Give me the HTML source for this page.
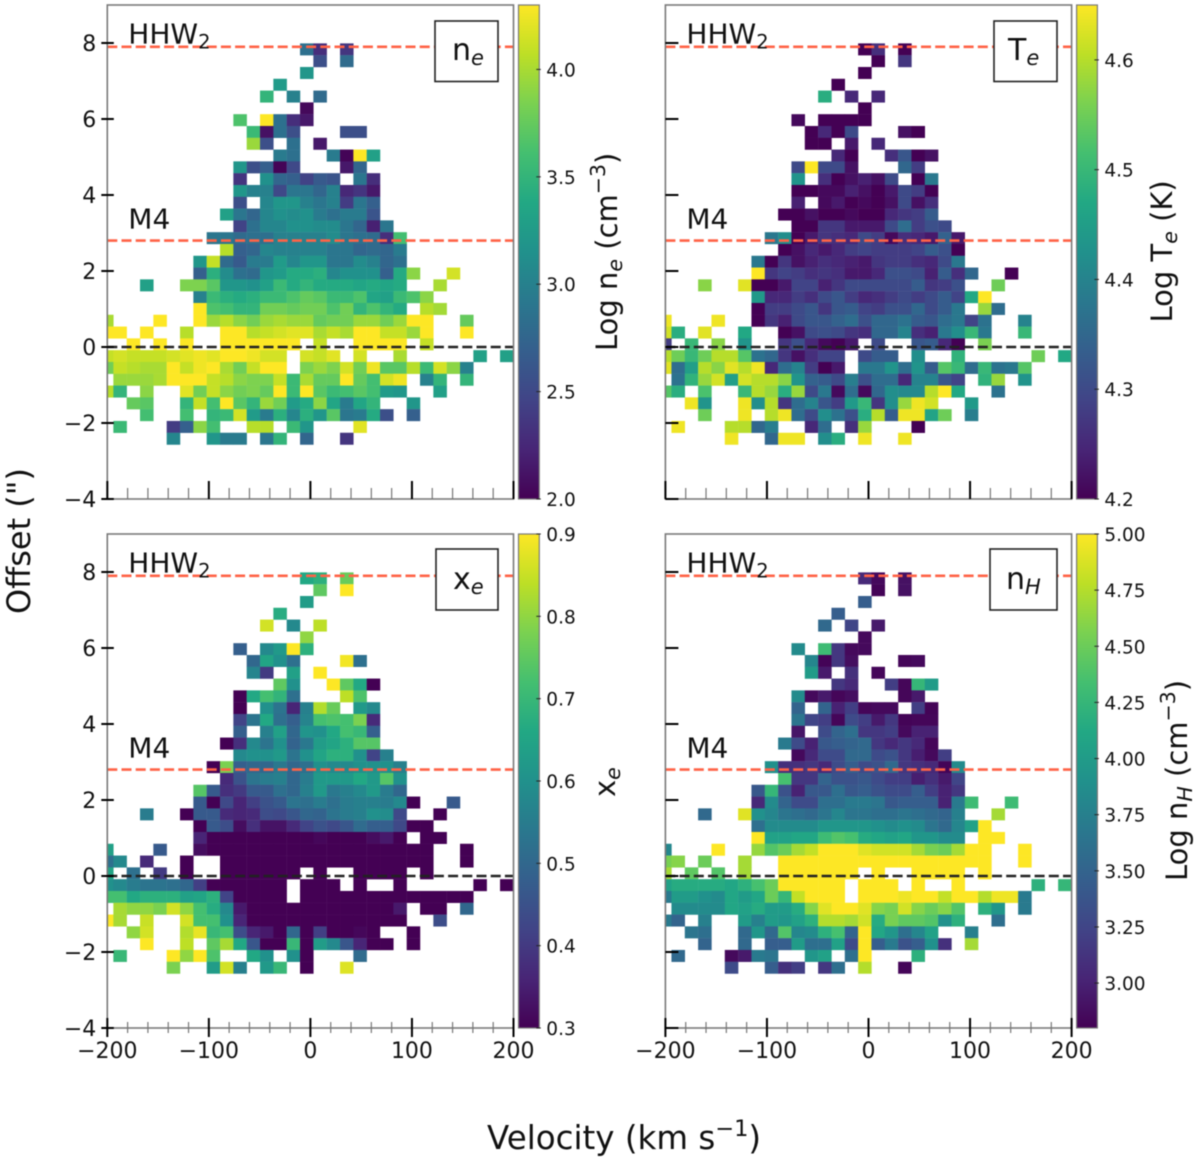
<!DOCTYPE html>
<html lang="en">
<head>
<meta charset="utf-8">
<title>Electron density, temperature, ionisation and hydrogen density maps</title>
<style>
html,body{margin:0;padding:0;background:#fff;}
svg{display:block;font-family:"DejaVu Sans","Liberation Sans",sans-serif;filter:blur(0.4px);}
text{fill:#111;}
</style>
</head>
<body>
<svg id="figure" xmlns="http://www.w3.org/2000/svg" width="1200" height="1161" viewBox="0 0 1200 1161">
  <rect x="0" y="0" width="1200" height="1161" fill="#fff"/>
  <g id="plots"></g>
  <g id="annotations">
    <g>
      <rect x="435" y="21" width="63" height="60.5" fill="#fff" stroke="#222" stroke-width="1.6"/>
      <text x="452" y="60" font-size="30">n<tspan font-size="21" font-style="italic" dy="5">e</tspan></text>
    </g>
    <g>
      <rect x="994" y="21" width="63" height="60.5" fill="#fff" stroke="#222" stroke-width="1.6"/>
      <text x="1008" y="60" font-size="30">T<tspan font-size="21" font-style="italic" dy="5">e</tspan></text>
    </g>
    <g>
      <rect x="436" y="549" width="62" height="61" fill="#fff" stroke="#222" stroke-width="1.6"/>
      <text x="453" y="589" font-size="30">x<tspan font-size="21" font-style="italic" dy="5">e</tspan></text>
    </g>
    <g>
      <rect x="990" y="549" width="67" height="61" fill="#fff" stroke="#222" stroke-width="1.6"/>
      <text x="1006" y="589" font-size="30">n<tspan font-size="21" font-style="italic" dy="5">H</tspan></text>
    </g>

    <text transform="translate(617,351) rotate(-90)" font-size="29">Log n<tspan font-size="20.5" font-style="italic" dy="5">e</tspan><tspan dy="-5"> (cm</tspan><tspan font-size="20.5" dy="-12">−3</tspan><tspan dy="12">)</tspan></text>
    <text transform="translate(1172,322.5) rotate(-90)" font-size="29">Log T<tspan font-size="20.5" font-style="italic" dy="5">e</tspan><tspan dy="-5"> (K)</tspan></text>
    <text transform="translate(615,797) rotate(-90)" font-size="29">x<tspan font-size="20.5" font-style="italic" dy="5">e</tspan></text>
    <text transform="translate(1187,881) rotate(-90)" font-size="29">Log n<tspan font-size="20.5" font-style="italic" dy="5">H</tspan><tspan dy="-5"> (cm</tspan><tspan font-size="20.5" dy="-12">−3</tspan><tspan dy="12">)</tspan></text>

    <text transform="translate(30,614) rotate(-90)" font-size="32">Offset (")</text>
    <text x="487" y="1149" font-size="32.5">Velocity (km s<tspan font-size="22.5" dy="-13">−1</tspan><tspan dy="13">)</tspan></text>
  </g>
</svg>
<script>
const _ = null;

// Each row: [first velocity-bin index, value, value, ...]; one row per offset bin, top to bottom.
const neValues = [
[15,2.85,2.3,_,2.35],
[16,2.55,_,2.8],
[15,3.2],
[13,3.25],
[12,3.5,_,3.0,_,2.8],
[15,2.05],
[10,3.65,_,4.3,2.85,2.3,2.15],
[11,3.55,2.1,2.85,2.55,_,_,_,2.55,2.55],
[11,3.95,2.55,_,2.85,_,2.15],
[13,2.95,2.85,_,_,2.95,2.02,4.3,3.3],
[10,3.2,2.55,2.7,2.02,2.5,_,_,_,2.15,2.75],
[10,2.35,_,3.15,2.75,2.7,2.45,2.65,2.6,_,2.9,2.3],
[10,3.2,3.0,3.0,2.5,2.9,2.9,2.75,3.0,2.25,2.35,2.15],
[10,2.55,_,3.05,3.2,3.2,3.0,2.9,3.0,2.4,2.9,2.7],
[9,3.3,2.9,2.75,3.05,3.15,3.1,3.15,2.95,2.85,2.95,2.95,2.6],
[10,2.45,2.85,3.05,3.05,3.15,3.15,3.1,3.1,2.9,2.75,2.2,2.9],
[8,2.9,2.9,2.8,2.85,2.85,3.0,3.0,3.0,3.0,3.1,2.9,2.85,2.8,2.3,3.6],
[9,4.05,2.7,2.75,3.05,3,3,3,3,2.9,2.9,2.75,2.8,2.75,2.95],
[7,3.2,4.1,2.8,2.65,2.95,2.95,3.25,3.05,3.2,3.2,2.9,2.9,3.1,3.0,2.75,2.85],
[7,2.7,3.45,3.1,2.85,2.8,3.2,3.25,3.4,3.4,3.45,3.05,3.15,3.15,3.15,2.7,3.4,3.9,_,_,4.15],
[3,3.3,_,_,3.85,3.85,3.7,3.2,3.2,3.15,3.3,3.55,3.4,3.5,3.4,3.4,3.4,3.35,3.4,3.35,3.4,_,_,4.0],
[7,3.0,3.55,3.45,3.4,3.45,3.55,3.55,3.65,3.75,3.7,3.55,3.55,3.65,3.35,3.3,3.55,3.65,3.9],
[7,4.3,3.65,3.6,3.5,3.5,3.8,3.8,3.75,3.8,3.8,3.65,3.8,3.5,3.65,3.5,3.4,_,4.05,3.98],
[0,4.0,_,_,_,4.3,_,_,4.3,3.95,4.05,3.9,3.8,3.95,4.0,3.95,3.95,3.75,3.8,3.8,3.95,3.95,3.8,3.95,4.3,4.3,_,_,3.75],
[0,4.3,4.3,_,4.3,_,_,4.05,_,_,4.3,4.3,4.05,4.1,4.15,4.2,4.2,4.0,4.1,4.0,4.3,4.3,4.1,4.1,3.95,4.3,_,_,4.3],
[2,4.3,_,4.3,_,4.3,_,_,4.3,4.3,4.3,4.3,4.3,4.3,_,4.1,_,_,4.3,4.3,4.3,4.3,_,4.1],
[0,4.1,4.15,4.1,4.1,4.1,4.15,4.2,4.25,4.2,4.3,4.3,4.25,4.15,4.15,_,4.15,4.1,4.2,_,4.15,_,_,4.0,_,_,_,_,_,3.3,_,3.3],
[0,3.8,4.1,4.05,4.0,4.0,4.3,4.1,4.25,4.3,4.0,3.8,4.1,4.3,4.3,_,3.85,3.95,3.85,4.15,3.8,4.25,3.7,3.7,4.05,3.55,4.15,3.9,3.0],
[1,3.95,3.95,3.95,4.0,4.3,4.3,4.3,4.1,4.05,3.9,3.85,3.85,4.1,3.55,4.0,3.75,3.75,4.3,3.75,3.6,4.15,4.25,_,3.0,3.5,_,3.5],
[0,4.05,3.5,_,3.9,_,_,4.2,3.8,4.1,3.9,3.8,3.85,3.75,4.3,3.55,4.3,3.7,3.55,3.6,3.7,3.6,3.25,3.2,_,_,3.3],
[2,3.75,3.7,_,_,3.5,4.1,3.6,4.3,3.7,3.5,3.95,3.8,3.25,3.4,3.9,3.35,2.95,3.35,3.5,_,_,3.2],
[3,3.6,_,_,3.6,_,3.5,3.55,4.15,3.25,2.95,3.45,3.05,3.45,3.2,3.7,2.9,2.95,3.4,2.55,_,2.7],
[1,3.55,_,_,_,2.4,2.7,3.9,3.6,_,_,4.05,4.05,_,3.55,3.2,_,_,_,4.2],
[5,3.05,_,_,3.2,2.95,2.95,_,2.9,3.5,_,2.75,_,_,2.35]
];

const teValues = [
[15,4.2,4.26,_,4.2],
[16,4.2,_,4.27],
[15,4.2],
[13,4.2],
[12,4.48,_,4.25,_,4.25],
[15,4.2],
[10,4.21,_,4.2,4.2,4.2,4.2],
[11,4.2,4.25,4.2,4.3,_,_,_,4.22,4.2],
[11,4.2,4.2,_,4.23,_,4.25],
[13,4.25,4.2,_,_,4.26,4.32,4.2,4.22],
[10,4.3,4.65,4.3,4.3,4.22,_,_,_,4.35,4.28],
[10,4.43,_,4.26,4.2,4.22,4.24,4.22,4.3,_,4.2,4.38],
[10,4.2,4.2,4.21,4.21,4.24,4.22,4.2,4.23,4.3,4.28,4.2],
[10,4.24,_,4.21,4.23,4.2,4.21,4.2,4.22,4.3,4.22,4.26],
[9,4.2,4.2,4.22,4.2,4.2,4.21,4.2,4.2,4.25,4.27,4.28,4.33],
[10,4.2,4.2,4.27,4.27,4.23,4.23,4.23,4.3,4.36,4.28,4.31,4.3],
[8,4.38,4.42,4.2,4.23,4.27,4.26,4.25,4.3,4.28,4.21,4.26,4.25,4.23,4.34,4.23],
[9,4.2,4.22,4.25,4.23,4.25,4.28,4.29,4.28,4.28,4.28,4.29,4.33,4.31,4.2],
[7,4.38,4.2,4.27,4.22,4.24,4.26,4.25,4.24,4.23,4.27,4.28,4.28,4.26,4.25,4.3,4.38],
[7,4.65,4.27,4.29,4.28,4.26,4.27,4.26,4.23,4.23,4.25,4.31,4.31,4.3,4.24,4.33,4.26,4.35,_,_,4.2],
[3,4.57,_,_,4.63,4.2,4.2,4.23,4.29,4.29,4.24,4.27,4.3,4.3,4.3,4.3,4.3,4.33,4.27,4.28,4.31,_,_,4.55],
[7,4.44,4.25,4.25,4.28,4.26,4.3,4.32,4.28,4.25,4.26,4.28,4.3,4.28,4.3,4.33,4.29,4.47,4.65],
[7,4.2,4.28,4.28,4.3,4.32,4.27,4.32,4.33,4.29,4.28,4.31,4.31,4.35,4.3,4.33,4.38,_,4.58,4.36],
[0,4.64,_,_,_,4.64,_,_,4.2,4.27,4.24,4.3,4.32,4.32,4.34,4.36,4.31,4.35,4.35,4.37,4.33,4.32,4.36,4.38,4.29,4.37,_,_,4.4],
[0,4.62,4.48,_,4.63,_,_,4.47,_,_,4.2,4.22,4.3,4.31,4.3,4.27,4.26,4.35,4.35,4.4,4.26,4.24,4.38,4.42,4.5,4.38,_,_,4.5],
[0,4.28,_,4.5,_,4.57,_,4.43,_,_,4.27,4.31,4.25,4.21,4.2,4.23,_,4.3,_,_,4.32,4.33,4.25,4.2,_,4.56],
[0,4.6,4.55,4.5,4.55,4.6,4.6,4.53,4.37,4.35,4.27,4.22,4.26,4.29,4.29,_,4.3,4.33,4.33,_,4.42,_,_,4.49,_,_,_,_,_,4.55,_,4.47],
[0,4.63,4.36,4.45,4.6,4.57,4.63,4.6,4.64,4.25,4.36,4.4,4.28,4.2,4.23,_,4.38,4.38,4.43,4.36,4.43,4.33,4.53,4.5,4.36,4.5,4.37,4.38,4.53],
[1,4.37,4.49,4.58,4.62,4.45,4.62,4.6,4.6,4.57,4.43,4.34,4.33,4.3,4.39,4.31,4.36,4.36,4.25,4.4,4.4,4.32,4.29,_,4.49,4.58,_,4.43],
[0,4.53,4.48,_,4.52,_,_,4.5,4.6,4.58,4.48,4.58,4.3,4.38,4.21,4.36,4.21,4.35,4.42,4.41,4.41,4.6,4.65,4.47,_,_,4.37],
[2,4.64,4.43,_,_,4.64,4.42,4.6,4.27,4.36,4.4,4.32,4.28,4.44,4.5,4.27,4.42,4.58,4.64,4.62,_,_,4.44],
[3,4.55,_,_,4.64,_,4.6,4.64,4.36,4.3,4.42,4.37,4.31,4.48,4.6,4.33,4.64,4.64,4.46,4.55,_,4.39],
[1,4.64,_,_,_,4.6,4.6,4.35,4.39,_,_,4.25,4.36,_,4.26,4.58,_,_,_,4.2],
[5,4.64,_,_,4.35,4.64,4.64,_,4.42,4.48,_,4.64,_,_,4.64]
];

const xeValues = [
[15,0.66,0.68,_,0.76],
[16,0.75,_,0.9],
[15,0.63],
[13,0.67],
[12,0.86,_,0.58,_,0.84],
[15,0.8],
[10,0.48,_,0.58,0.62,0.9,0.68],
[11,0.5,0.65,0.6,0.52,_,_,_,0.89,0.52],
[11,0.57,0.4,_,0.64,_,0.9],
[13,0.75,0.6,_,_,0.9,0.75,0.66,0.3],
[10,0.3,0.66,0.72,0.69,0.52,_,_,_,0.84,0.73],
[10,0.3,_,0.6,0.53,0.36,0.56,0.83,0.76,_,0.62,0.58],
[10,0.42,0.53,0.66,0.52,0.48,0.57,0.72,0.73,0.72,0.78,0.37],
[10,0.48,_,0.56,0.64,0.5,0.61,0.6,0.66,0.72,0.7,0.48],
[9,0.3,0.38,0.58,0.53,0.6,0.49,0.54,0.63,0.65,0.68,0.74,0.74],
[10,0.58,0.6,0.6,0.62,0.53,0.6,0.65,0.68,0.68,0.6,0.42,0.56],
[8,0.3,0.78,0.48,0.5,0.5,0.54,0.5,0.52,0.6,0.58,0.58,0.6,0.6,0.6,0.56],
[9,0.37,0.45,0.53,0.55,0.56,0.5,0.55,0.62,0.62,0.62,0.66,0.62,0.74,0.6],
[7,0.74,0.47,0.38,0.4,0.47,0.47,0.52,0.5,0.56,0.62,0.54,0.56,0.58,0.62,0.55,0.5],
[7,0.47,0.3,0.43,0.36,0.41,0.45,0.47,0.53,0.52,0.55,0.52,0.55,0.56,0.56,0.55,0.58,0.3,_,_,0.47],
[3,0.55,_,_,0.3,0.47,0.47,0.37,0.36,0.37,0.44,0.43,0.46,0.5,0.49,0.53,0.55,0.56,0.6,0.59,0.43,_,_,0.3],
[7,0.3,0.47,0.44,0.32,0.38,0.33,0.33,0.37,0.42,0.45,0.43,0.46,0.51,0.48,0.48,0.43,0.3,0.3],
[7,0.36,0.3,0.3,0.3,0.3,0.3,0.3,0.3,0.3,0.31,0.3,0.3,0.3,0.32,0.34,0.3,_,0.3,0.3],
[0,0.64,_,_,_,0.47,_,_,0.32,0.3,0.3,0.3,0.3,0.3,0.3,0.3,0.3,0.3,0.3,0.3,0.3,0.3,0.3,0.3,0.3,0.3,_,_,0.3],
[0,0.52,0.58,_,0.37,_,_,0.3,_,_,0.3,0.3,0.3,0.3,0.3,0.3,0.3,0.3,0.3,0.3,0.3,0.3,0.3,0.3,0.3,0.3,_,_,0.3],
[0,0.65,_,0.52,_,0.4,_,0.3,_,_,0.3,0.3,0.3,0.3,0.3,0.3,_,0.3,_,_,0.3,0.3,0.3,0.3,_,0.3],
[0,0.6,0.58,0.55,0.53,0.53,0.52,0.5,0.41,0.3,0.3,0.3,0.3,0.3,0.3,_,0.3,0.3,0.3,_,0.3,_,_,0.3,_,_,_,_,_,0.3,_,0.3],
[0,0.72,0.72,0.66,0.68,0.68,0.68,0.64,0.65,0.68,0.42,0.3,0.3,0.3,0.3,_,0.3,0.3,0.3,0.3,0.3,0.3,0.3,0.3,0.3,0.3,0.3,0.3,0.3],
[1,0.82,0.8,0.8,0.78,0.86,0.8,0.72,0.67,0.58,0.34,0.3,0.3,0.3,0.3,0.3,0.3,0.3,0.3,0.3,0.3,0.3,0.34,_,0.3,0.3,_,0.5],
[0,0.9,0.82,_,0.85,_,_,0.86,0.72,0.72,0.6,0.36,0.3,0.3,0.3,0.3,0.3,0.3,0.3,0.3,0.3,0.3,0.3,0.3,_,_,0.44],
[2,0.8,0.86,_,_,0.83,0.88,0.7,0.72,0.44,0.36,0.34,0.3,0.5,0.3,0.41,0.3,0.3,0.31,0.3,_,_,0.3],
[3,0.9,_,_,0.84,_,0.75,0.82,0.66,0.46,0.3,0.3,0.7,0.3,0.63,0.58,0.46,0.36,0.3,0.3,_,0.3],
[1,0.7,_,_,_,0.9,0.8,0.9,0.73,_,_,0.66,0.6,_,0.6,0.3,_,_,_,0.51],
[5,0.78,_,_,0.63,0.86,0.56,_,0.62,0.7,_,0.3,_,_,0.87]
];

const nhValues = [
[15,3.05,2.85,_,2.9],
[16,2.82,_,2.9],
[15,3.45],
[13,3.45],
[12,3.55,_,3.25,_,2.95],
[15,2.85],
[10,3.85,_,4.3,3.15,2.85,2.85],
[11,3.8,2.82,3.15,2.88,_,_,_,2.83,2.85],
[11,4.0,2.95,_,3.1,_,2.83],
[13,3.15,3.05,_,_,3.2,2.83,4.25,4.0],
[10,3.85,2.85,2.95,2.83,2.88,_,_,_,2.83,2.95],
[10,3.5,_,3.5,3.0,3.2,2.83,2.85,2.85,_,3.2,2.82],
[10,3.65,3.25,3.2,2.83,3.3,3.2,2.95,3.15,2.82,2.83,2.83],
[10,2.92,_,3.3,3.5,3.6,3.15,3.15,3.2,2.85,3.0,3.0],
[9,3.7,3.3,3.0,3.4,3.45,3.5,3.55,3.15,3.05,3.15,3.05,2.83],
[10,2.85,3.05,3.3,3.3,3.55,3.55,3.3,3.35,3.15,2.98,2.85,3.2],
[8,3.9,3.1,3.1,3.15,3.05,3.3,3.45,3.3,3.35,3.55,3.15,3.1,3.05,2.82,3.85],
[9,4.35,3.15,3.15,3.5,3.35,3.35,3.4,3.3,3.2,3.2,2.98,3.1,2.95,3.25],
[7,3.4,4.25,3.35,3.0,3.4,3.4,3.6,3.4,3.45,3.35,3.3,3.3,3.45,3.2,3.0,3.15],
[7,3.05,3.85,3.5,3.3,3.3,3.6,3.6,3.7,3.7,3.65,3.4,3.45,3.45,3.45,3.0,3.7,4.3,_,_,4.3],
[3,3.55,_,_,4.9,3.9,3.8,3.65,3.6,3.55,3.65,3.8,3.65,3.65,3.6,3.6,3.65,3.6,3.55,3.5,3.75,_,_,4.7],
[7,3.6,3.85,3.85,3.85,3.85,3.95,3.95,3.95,3.95,3.9,3.85,3.9,3.85,3.65,3.55,3.8,4.05,5],
[7,5,4.05,4.05,4.1,4.1,4.3,4.4,4.35,4.15,4.1,4.05,4.1,3.95,3.95,3.85,3.85,_,5,5],
[0,3.8,_,_,_,5,_,_,4.65,4.4,4.5,4.7,4.8,5,5,5,4.9,4.85,4.85,4.85,4.7,4.55,4.5,4.7,5,5,_,_,5],
[0,4.55,4.6,_,4.5,_,_,4.7,_,_,5,5,5,5,5,5,5,5,5,5,5,5,5,5,5,5,_,_,5],
[0,4.7,_,4.45,_,4.4,_,4.7,_,_,5,5,5,5,5,5,_,5,_,_,5,5,5,5,_,5],
[0,4.05,4.15,4.15,4.15,4.15,4.1,4.2,4.35,4.5,5,5,5,5,5,_,5,5,5,_,5,_,_,5,_,_,_,_,_,4.2,_,4.25],
[0,3.7,4.0,4.0,3.9,3.85,4.1,4.0,4.1,4.5,4.25,4.8,5,5,5,_,5,5,5,4.95,5,5,4.8,5,5,4.75,4.95,4.95,3.7],
[1,3.85,3.85,3.85,3.85,4.1,4.05,4.15,4.0,4.0,4.15,4.6,4.9,5,5,4.9,4.6,4.55,4.85,4.6,4.5,4.6,4.4,_,4.2,3.95,_,3.7],
[0,3.7,3.5,_,3.75,_,_,4.0,3.75,4.0,3.95,4.05,4.2,4.75,4.75,4.7,4.85,4.15,4.55,4.45,4.45,4.4,3.9,4.2,_,_,3.6],
[2,3.65,3.6,_,_,3.55,3.95,3.55,4.4,3.8,3.85,4.2,4.35,3.5,5,4.1,3.95,3.6,3.8,4.05,_,_,3.75],
[3,3.5,_,_,3.55,_,3.45,3.45,4.0,3.6,3.6,4.05,3.3,5,3.45,3.7,3.35,3.45,3.9,3.1,_,4.7],
[1,3.55,_,_,_,2.85,2.95,3.7,3.65,_,_,3.95,4.05,_,3.6,5,_,_,_,4.2],
[5,3.3,_,_,3.45,3.1,3.2,_,3.15,3.6,_,4.75,_,_,2.83]
];

const velocityTicks = [-200,-100,0,100,200];
const velocityMinorTicks = [-180,-160,-140,-120,-80,-60,-40,-20,20,40,60,80,120,140,160,180];
const offsetTicks = [8,6,4,2,0,-2,-4];
const referenceOffsets = [7.9,2.8];
const referenceLabels = ['HHW','M4'];
const neColorbarTicks = [2.0,2.5,3.0,3.5,4.0];
const teColorbarTicks = [4.2,4.3,4.4,4.5,4.6];
const xeColorbarTicks = [0.3,0.4,0.5,0.6,0.7,0.8,0.9];
const nhColorbarTicks = [3.0,3.25,3.5,3.75,4.0,4.25,4.5,4.75,5.0];

const viridis = ['#440154','#482576','#414487','#355f8d','#2a788e','#21918c','#22a884','#44bf70','#7ad151','#bddf26','#fde725'];

const velocityMin = -200, velocityMax = 200, offsetMin = -4, offsetMax = 9;
const binFirstVelocity = -200.6, binVelocityStep = 13.13;
const binFirstOffset = 7.99, binOffsetStep = 0.3105;
const panelWidth = 406.2, panelHeight = 494;

const panels = [
 {id:'ne', rows:neValues, vmin:2.0, vmax:4.3, left:107.3, top:5, cb:neColorbarTicks, digits:1, showY:true, showX:false},
 {id:'te', rows:teValues, vmin:4.2, vmax:4.65, left:665.4, top:5, cb:teColorbarTicks, digits:1, showY:false, showX:false},
 {id:'xe', rows:xeValues, vmin:0.3, vmax:0.9, left:107.3, top:534, cb:xeColorbarTicks, digits:1, showY:true, showX:true},
 {id:'nh', rows:nhValues, vmin:2.8, vmax:5.0, left:665.4, top:534, cb:nhColorbarTicks, digits:2, showY:false, showX:true}
];

const NS = 'http://www.w3.org/2000/svg';
const plots = document.getElementById('plots');

function hexToRgb(h){return [parseInt(h.slice(1,3),16),parseInt(h.slice(3,5),16),parseInt(h.slice(5,7),16)];}
function colorFor(f){
  f = Math.max(0,Math.min(1,f));
  const p = f*(viridis.length-1), i = Math.min(viridis.length-2,Math.floor(p)), t = p-i;
  const a = hexToRgb(viridis[i]), b = hexToRgb(viridis[i+1]);
  return 'rgb('+a.map((v,k)=>Math.round(v+(b[k]-v)*t)).join(',')+')';
}
function shape(parent,tag,attrs,text){
  const el = document.createElementNS(NS,tag);
  for(const k in attrs){el.setAttribute(k,attrs[k]);}
  if(text!==undefined){el.textContent=text;}
  parent.appendChild(el);
  return el;
}
function group(parent){
  const g = document.createElementNS(NS,'g');
  parent.appendChild(g);
  return g;
}

const defs = document.createElementNS(NS,'defs');
plots.appendChild(defs);
const gradient = shape(defs,'linearGradient',{id:'viridis-gradient',x1:0,y1:1,x2:0,y2:0});
viridis.forEach(function(c,i){
  shape(gradient,'stop',{offset:i/(viridis.length-1),'stop-color':c});
});

panels.forEach(function(p){
  const xScale = v => p.left + (v-velocityMin)/(velocityMax-velocityMin)*panelWidth;
  const yScale = v => p.top + (offsetMax-v)/(offsetMax-offsetMin)*panelHeight;
  const right = p.left+panelWidth, bottom = p.top+panelHeight;

  const panel = group(plots);
  
  

  const heat = group(panel);
  
  

  p.rows.forEach(function(row,r){
    const start = row[0];
    row.slice(1).forEach(function(value,i){
      if(value===null){return;}
      const c = start+i;
      const vLeft = binFirstVelocity+binVelocityStep*(c-0.5);
      const x0 = Math.max(p.left,xScale(vLeft));
      const x1 = Math.min(right,xScale(vLeft+binVelocityStep));
      const oTop = binFirstOffset-binOffsetStep*r;
      const y0 = yScale(oTop);
      const y1 = yScale(oTop-binOffsetStep);
      const cell = shape(heat,'rect',{x:x0,y:y0,width:x1-x0+0.2,height:y1-y0+0.2,fill:colorFor((value-p.vmin)/(p.vmax-p.vmin))});
      
      
    });
  });

  referenceOffsets.forEach(function(o,i){
    const line = shape(panel,'line',{x1:p.left,x2:right,y1:yScale(o),y2:yScale(o),stroke:'#ff6347','stroke-width':2.6,'stroke-dasharray':'10 4.2'});
    
    
  });
  const zero = shape(panel,'line',{x1:p.left,x2:right,y1:yScale(0),y2:yScale(0),stroke:'#222','stroke-width':2.4,'stroke-dasharray':'10 4.2'});
  
  

  const frame = shape(panel,'rect',{x:p.left,y:p.top,width:panelWidth,height:panelHeight,fill:'none',stroke:'#7a7a7a','stroke-width':1.6});
  
  

  const hhw = shape(panel,'text',{x:p.left+21,y:p.top+38.5,'font-size':28},referenceLabels[0]);
  
  
  shape(hhw,'tspan',{'font-size':19.5,dy:5},'2');
  const m4 = shape(panel,'text',{x:p.left+21,y:p.top+223.5,'font-size':28},referenceLabels[1]);
  
  

  offsetTicks.forEach(function(v){
    const y = yScale(v);
    const tick = shape(panel,'line',{x1:p.showY?p.left-6:p.left,x2:p.left+(p.showY?6.5:13),y1:y,y2:y,stroke:'#000','stroke-width':2});
    
    
    if(p.showY){
      const label = shape(panel,'text',{x:p.left-11,y:y+8,'font-size':22,'text-anchor':'end'},String(v).replace('-','−'));
      
      
    }
  });

  velocityMinorTicks.forEach(function(v){
    const x = xScale(v);
    const tick = shape(panel,'line',{x1:x,x2:x,y1:bottom-(p.showX?6:11),y2:bottom+(p.showX?5:0),stroke:'#777','stroke-width':1.2});
    
    
  });
  velocityTicks.forEach(function(v){
    const x = xScale(v);
    const tick = shape(panel,'line',{x1:x,x2:x,y1:bottom-(p.showX?10:18),y2:bottom+(p.showX?9:0),stroke:'#000','stroke-width':2});
    
    
    if(p.showX){
      const label = shape(panel,'text',{x:x,y:bottom+30,'font-size':22,'text-anchor':'middle'},String(v).replace('-','−'));
      
      
    }
  });

  const cbLeft = right+5, cbWidth = 20.8;
  const cb = group(panel);
  
  
  const bar = shape(cb,'rect',{x:cbLeft,y:p.top,width:cbWidth,height:panelHeight,fill:'url(#viridis-gradient)',stroke:'#7a7a7a','stroke-width':1.2});
  
  
  p.cb.forEach(function(v){
    const y = bottom-(v-p.vmin)/(p.vmax-p.vmin)*panelHeight;
    const tick = shape(cb,'line',{x1:cbLeft+cbWidth-3,x2:cbLeft+cbWidth+1.5,y1:y,y2:y,stroke:'#222','stroke-width':1});
    
    
    const label = shape(cb,'text',{x:cbLeft+cbWidth+7,y:y+7,'font-size':18.5},v.toFixed(p.digits));
    
    
  });
});
</script>
</body>
</html>
